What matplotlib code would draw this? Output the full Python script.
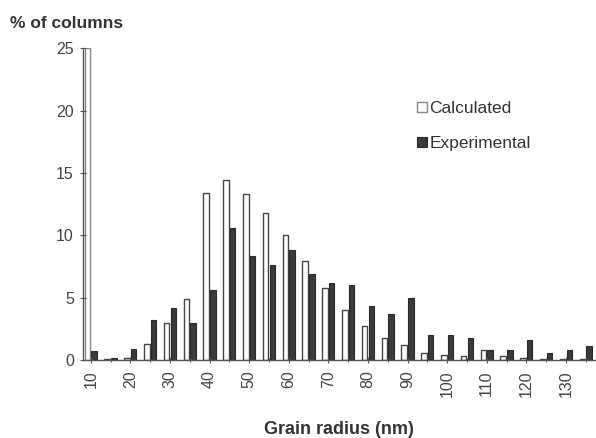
import matplotlib
matplotlib.use("Agg")
import matplotlib.pyplot as plt
import numpy as np

plt.rcParams['font.family'] = ['Liberation Sans', 'DejaVu Sans']

radius = [10, 15, 20, 25, 30, 35, 40, 45, 50, 55, 60, 65, 70, 75, 80, 85, 90,
          95, 100, 105, 110, 115, 120, 125, 130, 135]
calculated = [25.0, 0.1, 0.2, 1.3, 3.0, 4.9, 13.4, 14.4, 13.3, 11.8, 10.0, 7.9, 5.8,
              4.0, 2.7, 1.8, 1.2, 0.6, 0.4, 0.3, 0.8, 0.3, 0.2, 0.1, 0.1, 0.1]
experimental = [0.7, 0.2, 0.9, 3.2, 4.2, 3.0, 5.6, 10.6, 8.3, 7.6, 8.8, 6.9, 6.2,
                6.0, 4.3, 3.7, 5.0, 2.0, 2.0, 1.8, 0.8, 0.8, 1.6, 0.6, 0.8, 1.1]
xticks = list(range(10, 131, 10))
yticks = [0, 5, 10, 15, 20, 25]

fig = plt.figure(figsize=(5.96, 4.38), dpi=100)
ax = fig.add_axes([0.139, 0.178, 0.861, 0.712])

x = np.array(radius, dtype=float)
w = 1.4
gray = '#555555'
edge_c = ['#888888'] + ['#444444'] * (len(radius) - 1)
ax.bar(x - 0.85, calculated, width=w, facecolor='white', edgecolor=edge_c, linewidth=1.0,
       label='Calculated')
ax.bar(x + 0.85, experimental, width=w, facecolor='#3a3a3a', edgecolor='#2a2a2a', linewidth=0.8,
       label='Experimental')

ax.set_xlim(8, 137.6)
ax.set_ylim(0, 25)
ax.set_yticks(yticks)
ax.set_yticklabels([str(v) for v in yticks], fontsize=11.5, color='#444444')
ax.set_xticks(xticks)
ax.set_xticklabels([str(v) for v in xticks], rotation=90, fontsize=11.5, color='#444444')
ax.set_xticks(list(range(15, 136, 10)), minor=True)
ax.tick_params(axis='both', which='both', direction='inout', color=gray, length=5, width=0.8)
ax.tick_params(axis='x', which='minor', length=3)
ax.tick_params(axis='x', pad=5)
ax.tick_params(axis='y', pad=4)

for s in ['top', 'right']:
    ax.spines[s].set_visible(False)
for s in ['left', 'bottom']:
    ax.spines[s].set_color(gray)
    ax.spines[s].set_linewidth(1.0)

ax.set_xlabel('Grain radius (nm)', fontsize=13, color='#333333', fontweight='bold', labelpad=17)
fig.text(0.017, 0.947, '% of columns', fontsize=12.5, color='#333333', fontweight='bold',
         ha='left', va='center')

leg = ax.legend(loc='upper left', bbox_to_anchor=(0.652, 0.83), frameon=False, fontsize=12.5,
                handlelength=0.55, handleheight=0.55, handletextpad=0.15, labelspacing=1.15,
                labelcolor='#333333', borderaxespad=0, borderpad=0)

fig.savefig('out.png', dpi=100)
